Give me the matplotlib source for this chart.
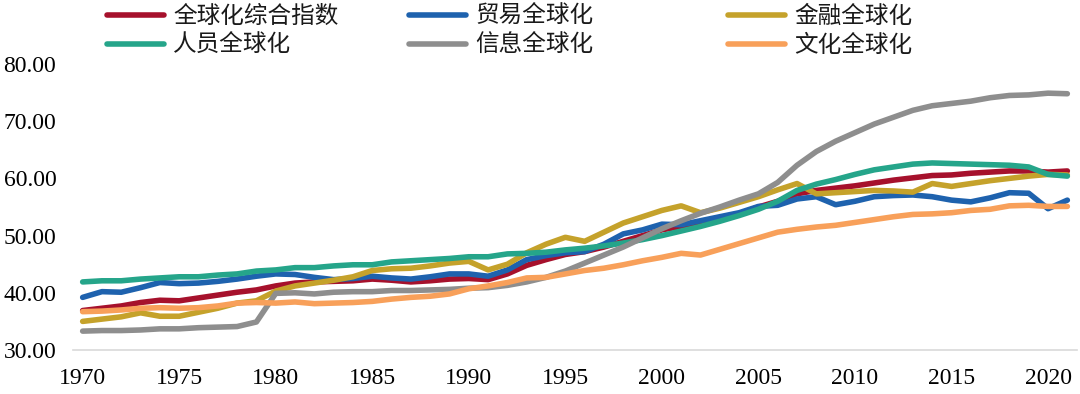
import numpy as np
import matplotlib.pyplot as plt

plt.rcParams['font.family'] = ['Liberation Serif', 'Noto Sans CJK SC']

# 年份
years = np.arange(1970, 2022)

# 各维度全球化指数
composite = [36.9, 37.3, 37.7, 38.3, 38.7, 38.6, 39.1, 39.6, 40.1, 40.5,
             41.2, 41.7, 41.9, 42.0, 42.1, 42.4, 42.2, 41.9, 42.1, 42.4,
             42.5, 42.3, 43.3, 44.8, 45.8, 46.7, 47.2, 48.0, 49.0, 50.0,
             51.0, 51.6, 52.2, 52.8, 53.8, 55.0, 56.0, 57.3, 57.9, 58.3,
             58.7, 59.2, 59.7, 60.1, 60.5, 60.6, 60.9, 61.1, 61.3, 61.3,
             61.1, 61.3]
trade = [39.2, 40.2, 40.1, 40.9, 41.8, 41.6, 41.7, 42.0, 42.4, 42.9,
         43.3, 43.2, 42.7, 42.3, 42.5, 42.9, 42.6, 42.4, 42.8, 43.3,
         43.3, 42.9, 44.0, 45.8, 46.5, 47.0, 47.2, 48.5, 50.3, 51.0,
         52.0, 51.9, 52.6, 53.3, 54.0, 55.1, 55.3, 56.4, 56.8, 55.4,
         56.0, 56.8, 57.0, 57.1, 56.8, 56.2, 55.9, 56.6, 57.5, 57.4,
         54.7, 56.2]
finance = [35.0, 35.4, 35.8, 36.5, 35.9, 35.9, 36.6, 37.3, 38.2, 38.6,
           40.3, 41.2, 41.7, 42.2, 42.8, 43.9, 44.2, 44.3, 44.7, 45.2,
           45.5, 44.0, 45.0, 47.0, 48.5, 49.7, 49.0, 50.6, 52.2, 53.3,
           54.4, 55.2, 54.0, 54.8, 55.8, 56.8, 58.0, 59.1, 57.3, 57.5,
           57.7, 57.9, 57.8, 57.6, 59.1, 58.6, 59.1, 59.6, 60.0, 60.4,
           60.7, 60.6]
people = [41.9, 42.1, 42.1, 42.4, 42.6, 42.8, 42.8, 43.1, 43.3, 43.8,
          44.0, 44.4, 44.4, 44.7, 44.9, 44.9, 45.4, 45.6, 45.8, 46.0,
          46.3, 46.3, 46.8, 46.9, 47.1, 47.5, 47.8, 48.2, 48.7, 49.3,
          50.0, 50.8, 51.6, 52.5, 53.5, 54.6, 56.0, 57.9, 59.0, 59.8,
          60.7, 61.5, 62.0, 62.5, 62.7, 62.6, 62.5, 62.4, 62.3, 62.0,
          60.7, 60.4]
info = [33.3, 33.4, 33.4, 33.5, 33.7, 33.7, 33.9, 34.0, 34.1, 34.9,
        39.9, 40.0, 39.8, 40.1, 40.2, 40.2, 40.4, 40.4, 40.5, 40.6,
        40.8, 40.9, 41.3, 41.9, 42.7, 43.8, 45.2, 46.6, 48.0, 49.6,
        51.2, 52.6, 53.9, 55.0, 56.2, 57.3, 59.3, 62.3, 64.7, 66.5,
        68.0, 69.5, 70.7, 71.9, 72.7, 73.1, 73.5, 74.1, 74.5, 74.6,
        74.9, 74.8]
culture = [36.7, 36.8, 37.0, 37.3, 37.4, 37.3, 37.4, 37.7, 38.2, 38.3,
           38.2, 38.4, 38.1, 38.2, 38.3, 38.5, 38.9, 39.2, 39.4, 39.8,
           40.7, 41.2, 41.8, 42.6, 42.7, 43.3, 43.9, 44.3, 44.9, 45.6,
           46.2, 46.9, 46.6, 47.6, 48.6, 49.6, 50.6, 51.1, 51.5, 51.8,
           52.3, 52.8, 53.3, 53.7, 53.8, 54.0, 54.4, 54.6, 55.2, 55.3,
           55.1, 55.1]

labels = ['全球化综合指数', '贸易全球化', '金融全球化', '人员全球化', '信息全球化', '文化全球化']
colors = ['#A6112C', '#1E62AE', '#C5A22B', '#25A58A', '#8E8E8E', '#F8A05A']
series = [composite, trade, finance, people, info, culture]

fig = plt.figure(figsize=(10.8, 3.94), dpi=100)
ax = fig.add_axes([73 / 1080, 1 - 350 / 394, 1004 / 1080, 286 / 394])

lines = []
for s, c, lab in zip(series, colors, labels):
    ln, = ax.plot(years, s, color=c, linewidth=4.0, label=lab,
                  solid_capstyle='round', solid_joinstyle='round')
    lines.append(ln)

ax.set_xlim(1969.5, 2021.5)
ax.set_ylim(30, 80)
ax.set_xticks(np.arange(1970, 2021, 5))
ax.set_yticks(np.arange(30, 81, 10))
ax.set_yticklabels(['%.2f' % v for v in np.arange(30, 81, 10)])
ax.tick_params(length=0, labelsize=17, colors='#000000')
ax.tick_params(axis='y', pad=12)
ax.tick_params(axis='x', pad=13)
for sp in ['top', 'right', 'left']:
    ax.spines[sp].set_visible(False)
ax.spines['bottom'].set_color('#D9D9D9')
ax.spines['bottom'].set_linewidth(1.2)

# 图例：三列，每列两行
col_x = [107, 409, 728]
for i, x in enumerate(col_x):
    leg = fig.legend([lines[i], lines[i + 3]], [labels[i], labels[i + 3]],
                     loc='upper left', bbox_to_anchor=(x / 1080, 1 - 5 / 394),
                     frameon=False, borderpad=0, borderaxespad=0,
                     handlelength=2.4, handletextpad=0.4, labelspacing=0.25,
                     prop={'family': 'Noto Sans CJK SC', 'size': 17})
    for t in leg.get_texts():
        t.set_color('#1A1A1A')

fig.savefig('out.png', dpi=100)
